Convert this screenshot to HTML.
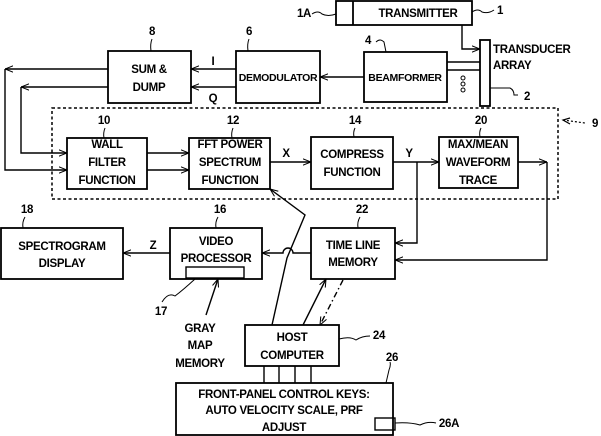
<!DOCTYPE html>
<html><head><meta charset="utf-8"><style>
html,body{margin:0;padding:0;background:#fff;}
svg{display:block;}
text{font-family:"Liberation Sans",Arial,sans-serif;font-size:11.5px;font-weight:bold;fill:#000;text-anchor:middle;letter-spacing:-0.3px;}
</style></head><body>
<svg width="601" height="436" viewBox="0 0 601 436" xmlns="http://www.w3.org/2000/svg">
<defs>
<marker id="a" viewBox="0 0 10 10" refX="10" refY="5" markerWidth="8" markerHeight="8" orient="auto" markerUnits="userSpaceOnUse"><path d="M0,1 L10,5 L0,9" fill="none" stroke="#000" stroke-width="1.3"/></marker>
</defs>
<g fill="none" stroke="#000" stroke-width="1.8">
<rect x="336" y="1" width="136" height="24"/>
<line x1="353" y1="1" x2="353" y2="25"/>
<rect x="480" y="40" width="10" height="66"/>
<rect x="364" y="52" width="83" height="50"/>
<rect x="236" y="51" width="84" height="52"/>
<rect x="108" y="51" width="83" height="52"/>
<rect x="67" y="138" width="80" height="51"/>
<rect x="189" y="138" width="81" height="51"/>
<rect x="311" y="137" width="82" height="52"/>
<rect x="439" y="137" width="79" height="51"/>
<rect x="1" y="228" width="122" height="51"/>
<rect x="170" y="228" width="92" height="51"/>
<rect x="186" y="267" width="58" height="11" stroke-width="1.4"/>
<rect x="311" y="228" width="84" height="51"/>
<rect x="245" y="325" width="94" height="41"/>
<rect x="176" y="383" width="217" height="52"/>
<rect x="375" y="418" width="20" height="12" stroke-width="1.4"/>
</g>
<rect x="52" y="108" width="506" height="91" fill="none" stroke="#000" stroke-width="1.5" stroke-dasharray="3,2.5"/>
<g fill="none" stroke="#000" stroke-width="1.4">
<polyline points="462,25 462,49 480,49" marker-end="url(#a)"/>
<line x1="447" y1="62" x2="480" y2="62"/><line x1="447" y1="70" x2="480" y2="70"/>
<line x1="364" y1="77" x2="320" y2="77" marker-end="url(#a)"/>
<line x1="236" y1="69" x2="191" y2="69" marker-end="url(#a)"/>
<line x1="236" y1="87" x2="191" y2="87" marker-end="url(#a)"/>
<line x1="108" y1="69" x2="5" y2="69" marker-end="url(#a)"/>
<line x1="108" y1="87" x2="21" y2="87" marker-end="url(#a)"/>
<polyline points="5,69 5,170 67,170" marker-end="url(#a)"/>
<polyline points="21,87 21,153 67,153" marker-end="url(#a)"/>
<line x1="147" y1="153" x2="189" y2="153" marker-end="url(#a)"/>
<line x1="147" y1="170" x2="189" y2="170" marker-end="url(#a)"/>
<line x1="270" y1="162" x2="311" y2="162" marker-end="url(#a)"/>
<line x1="393" y1="162" x2="439" y2="162" marker-end="url(#a)"/>
<line x1="518" y1="162" x2="547" y2="162" marker-end="url(#a)"/>
<polyline points="417,162 417,243 395,243" marker-end="url(#a)"/>
<polyline points="547,162 547,260 395,260" marker-end="url(#a)"/>
<path d="M311,253 L293,253 A5,5 0 0 0 283,253 L262,253" marker-end="url(#a)"/>
<line x1="170" y1="253" x2="123" y2="253" marker-end="url(#a)"/>
<path d="M272,325 L287,258 L305,215 L270,189" marker-end="url(#a)"/>
<line x1="303" y1="325" x2="326" y2="279" marker-end="url(#a)"/>
<line x1="343" y1="280" x2="320" y2="325" stroke-dasharray="6,3,1.5,3" marker-end="url(#a)"/>
<line x1="264" y1="366" x2="264" y2="383"/><line x1="279" y1="366" x2="279" y2="383"/>
<line x1="295" y1="366" x2="295" y2="383"/><line x1="311" y1="366" x2="311" y2="383"/>
<line x1="206" y1="315" x2="218" y2="279" marker-end="url(#a)"/>
<path d="M162,302 Q168,292 175,296 Q183,290 195,279" stroke-width="1"/>
<path d="M312,14 Q318,10 322,14 Q328,17 336,14" stroke-width="1"/>
<path d="M472,12 Q478,8 482,12 Q488,14 494,10" stroke-width="1"/>
<path d="M490,88 L510,88 Q514,90 514,95 L518,95" stroke-width="1"/>
<path d="M376,42 Q380,38 384,42 L386,52" stroke-width="1"/>
<path d="M339,339 Q350,336 356,340 Q362,336 370,336" stroke-width="1"/>
<path d="M395,423 Q410,422 420,425 Q428,421 436,423" stroke-width="1"/>
<path d="M386,383 L389,370 Q391,365 390,362" stroke-width="1"/>
<path d="M563,120 L585,123" stroke-dasharray="2,2" stroke-width="1.2"/>
<path d="M570,118 L563,120 L570,124" stroke-width="1.2"/>
<!-- label ticks -->
<g stroke-width="1">
<path d="M152,39 Q150,44 151,51"/>
<path d="M249,39 Q247,44 248,51"/>
<path d="M105,128 Q103,133 104,138"/>
<path d="M233,128 Q231,133 232,138"/>
<path d="M355,128 Q353,132 354,137"/>
<path d="M481,128 Q479,132 480,137"/>
<path d="M25,217 Q22,222 23,228"/>
<path d="M218,217 Q215,222 216,228"/>
<path d="M360,217 Q357,222 358,228"/>
</g>
</g>
<g fill="none" stroke="#000" stroke-width="1">
<circle cx="463" cy="78" r="2"/><circle cx="463" cy="84" r="2"/><circle cx="463" cy="90" r="2"/>
</g>
<text x="418" y="17">TRANSMITTER</text>
<text x="304" y="17">1A</text>
<text x="500" y="14">1</text>
<text x="493" y="53" style="text-anchor:start">TRANSDUCER</text>
<text x="493" y="69" style="text-anchor:start">ARRAY</text>
<text x="527" y="100">2</text>
<text x="368" y="44">4</text>
<text x="405" y="81" style="font-size:10.5px">BEAMFORMER</text>
<text x="278" y="81" style="font-size:10.5px">DEMODULATOR</text>
<text x="249" y="35">6</text>
<text x="152" y="35">8</text>
<text x="149" y="73">SUM &amp;</text>
<text x="149" y="91">DUMP</text>
<text x="213" y="65">I</text>
<text x="213" y="102">Q</text>
<text x="104" y="124">10</text>
<text x="107" y="148">WALL</text>
<text x="107" y="166">FILTER</text>
<text x="107" y="184">FUNCTION</text>
<text x="233" y="124">12</text>
<text x="230" y="148">FFT POWER</text>
<text x="230" y="166">SPECTRUM</text>
<text x="230" y="184">FUNCTION</text>
<text x="286" y="157">X</text>
<text x="355" y="124">14</text>
<text x="352" y="158">COMPRESS</text>
<text x="352" y="176">FUNCTION</text>
<text x="409" y="157">Y</text>
<text x="481" y="124">20</text>
<text x="478" y="148">MAX/MEAN</text>
<text x="478" y="166">WAVEFORM</text>
<text x="478" y="184">TRACE</text>
<text x="595" y="127">9</text>
<text x="27" y="213">18</text>
<text x="62" y="250">SPECTROGRAM</text>
<text x="62" y="267">DISPLAY</text>
<text x="153" y="249">Z</text>
<text x="220" y="213">16</text>
<text x="216" y="245">VIDEO</text>
<text x="216" y="262">PROCESSOR</text>
<text x="362" y="213">22</text>
<text x="353" y="249">TIME LINE</text>
<text x="353" y="266">MEMORY</text>
<text x="161" y="315">17</text>
<text x="200" y="332">GRAY</text>
<text x="200" y="349">MAP</text>
<text x="200" y="367">MEMORY</text>
<text x="292" y="341">HOST</text>
<text x="292" y="359">COMPUTER</text>
<text x="379" y="339">24</text>
<text x="392" y="361">26</text>
<text x="284" y="398">FRONT-PANEL CONTROL KEYS:</text>
<text x="284" y="414">AUTO VELOCITY SCALE, PRF</text>
<text x="284" y="431">ADJUST</text>
<text x="449" y="427">26A</text>
</svg>
</body></html>
